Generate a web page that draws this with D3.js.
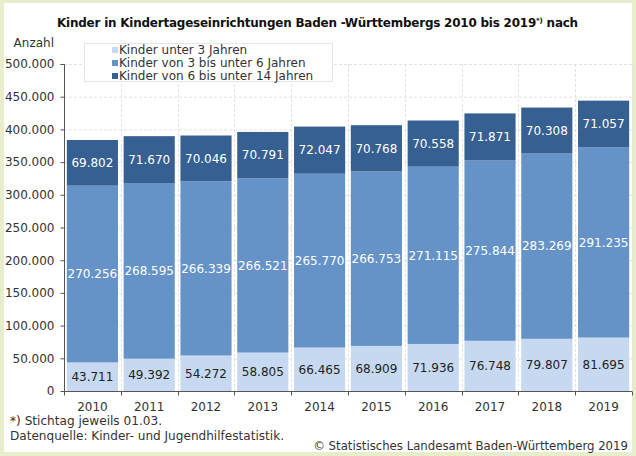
<!DOCTYPE html>
<html><head><meta charset="utf-8">
<script src="https://cdn.jsdelivr.net/npm/d3@7"></script>
<style>
html,body{margin:0;padding:0;background:#e8eecb;}
svg{display:block;}
</style></head>
<body>
<svg id="chart" width="636" height="456"></svg>
<script>
const years = ["2010","2011","2012","2013","2014","2015","2016","2017","2018","2019"];
const seriesNames = ["Kinder unter 3 Jahren","Kinder von 3 bis unter 6 Jahren","Kinder von 6 bis unter 14 Jahren"];
const under3 = [43711,49392,54272,58805,66465,68909,71936,76748,79807,81695];
const from3to6 = [270256,268595,266339,266521,265770,266753,271115,275844,283269,291235];
const from6to14 = [69802,71670,70046,70791,72047,70768,70558,71871,70308,71057];
const yTicks = [0,50000,100000,150000,200000,250000,300000,350000,400000,450000,500000];
const colors = ["#c6d9f0","#6593c8","#365f92"];
const labelColors = ["#222222","#ffffff","#ffffff"];

const de = d3.formatLocale({decimal:",",thousands:".",grouping:[3],currency:["","€"]});
const fmt = de.format(",d");

const svg = d3.select("#chart");
const FONT = "DejaVu Sans, Verdana, sans-serif";

svg.append("rect").attr("x",4).attr("y",3).attr("width",628).attr("height",449).attr("fill","#ffffff");

const x = d3.scaleBand().domain(years).range([64,632]).paddingInner(0.1).paddingOuter(0.05);
const y = d3.scaleLinear().domain([0,500000]).range([391,64]);

// gridlines
const step = x.step();
const bounds = years.map((d,i)=> x(d) - (step - x.bandwidth())/2).concat([x(years[years.length-1]) + x.bandwidth() + (step - x.bandwidth())/2]);
svg.append("g").selectAll("line").data(yTicks.slice(1)).join("line")
  .attr("x1",64).attr("x2",632).attr("y1",d=>y(d)+0.5).attr("y2",d=>y(d)+0.5)
  .attr("stroke","#e2e2e2").attr("stroke-dasharray","3,2");
svg.append("g").selectAll("line").data(bounds.slice(1)).join("line")
  .attr("x1",d=>Math.round(d)+0.5).attr("x2",d=>Math.round(d)+0.5).attr("y1",64).attr("y2",391)
  .attr("stroke","#e2e2e2").attr("stroke-dasharray","3,2");

// stacked data
const table = years.map((yr,i)=>({year:yr, s0:under3[i], s1:from3to6[i], s2:from6to14[i]}));
const stack = d3.stack().keys(["s0","s1","s2"])(table);

const layers = svg.append("g").selectAll("g").data(stack).join("g").attr("fill",(d,i)=>colors[i]);
layers.selectAll("rect").data(d=>d).join("rect")
  .attr("x",d=>x(d.data.year)).attr("width",x.bandwidth())
  .attr("y",d=>y(d[1])).attr("height",d=>y(d[0])-y(d[1]));

// labels
const lbl = svg.append("g").attr("font-family",FONT).attr("font-size","12px").attr("text-anchor","middle");
stack.forEach((layer,li)=>{
  lbl.append("g").attr("fill",labelColors[li]).selectAll("text").data(layer).join("text")
    .attr("x",d=>x(d.data.year)+x.bandwidth()/2)
    .attr("y",d=>(y(d[0])+y(d[1]))/2)
    .attr("dy","0.36em")
    .text(d=>fmt(d[1]-d[0]));
});

// y axis
const yAxis = d3.axisLeft(y).tickValues(yTicks).tickFormat(fmt).tickSize(4).tickPadding(6);
const ya = svg.append("g").attr("transform","translate(64.5,0)").call(yAxis);
ya.select(".domain").attr("stroke","#555").attr("d","M-4,64.5H0V391.5");
ya.selectAll(".tick line").attr("stroke","#555");
ya.selectAll("text").attr("font-family",FONT).attr("font-size","12px").attr("fill","#333");

// x axis
const xa = svg.append("g").attr("transform","translate(0,391.5)");
xa.append("line").attr("x1",64).attr("x2",632).attr("stroke","#555");
xa.selectAll("line.t").data(bounds).join("line").attr("class","t")
  .attr("x1",d=>Math.round(d)+0.5).attr("x2",d=>Math.round(d)+0.5).attr("y1",0).attr("y2",4).attr("stroke","#555");
xa.selectAll("text").data(years).join("text")
  .attr("x",d=>x(d)+x.bandwidth()/2).attr("y",19)
  .attr("text-anchor","middle").attr("font-family",FONT).attr("font-size","12px").attr("fill","#333")
  .text(d=>d);

// title
function fit(sel, w){
  const n = sel.node(); const fs = parseFloat(sel.attr("font-size"));
  const cw = n.getComputedTextLength();
  sel.attr("font-size", (fs*w/cw).toFixed(2)+"px");
}
const title = svg.append("text").attr("x",57).attr("y",26.5).attr("font-family",FONT)
  .attr("font-weight","bold").attr("font-size","12px").attr("fill","#111").attr("letter-spacing","-0.2px");
title.append("tspan").text("Kinder in Kindertageseinrichtungen Baden -Württembergs 2010 bis 2019");
title.append("tspan").attr("font-size","0.6em").attr("dy","-0.45em").text("*)");
title.append("tspan").attr("dy","0.27em").text(" nach");
fit(title,521);

svg.append("text").attr("x",54).attr("y",47).attr("text-anchor","end").attr("font-family",FONT)
  .attr("font-size","12px").attr("fill","#333").text("Anzahl");

// legend
const lg = svg.append("g");
lg.append("rect").attr("x",84.5).attr("y",43.5).attr("width",248).attr("height",38).attr("fill","#fff").attr("stroke","#e4e4e4");
seriesNames.forEach((s,i)=>{
  lg.append("rect").attr("x",112).attr("y",47+i*13).attr("width",6).attr("height",6).attr("fill",colors[i]);
  lg.append("text").attr("x",119).attr("y",50+i*13).attr("dy","0.36em").attr("font-family",FONT)
    .attr("font-size","12px").attr("fill","#333").text(s);
});

// footnotes
const f1 = svg.append("text").attr("x",10).attr("y",425).attr("font-family",FONT).attr("font-size","12px").attr("fill","#333").text("*) Stichtag jeweils 01.03.");
fit(f1,152);
const f2 = svg.append("text").attr("x",10).attr("y",440).attr("font-family",FONT).attr("font-size","12px").attr("fill","#333").text("Datenquelle: Kinder- und Jugendhilfestatistik.");
fit(f2,274);
const f3 = svg.append("text").attr("x",628).attr("y",450).attr("text-anchor","end").attr("font-family",FONT).attr("font-size","12px").attr("fill","#333").text("© Statistisches Landesamt Baden-Württemberg 2019");
fit(f3,315);
</script>
</body></html>
